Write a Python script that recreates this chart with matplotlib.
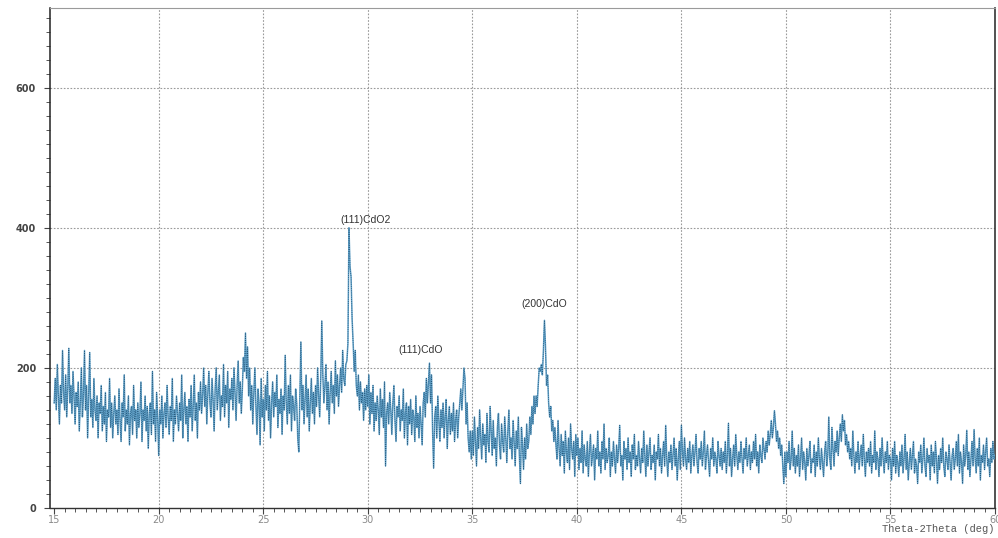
import numpy as np
import matplotlib
matplotlib.use("Agg")
import matplotlib.pyplot as plt
from matplotlib.ticker import MultipleLocator

# ---------------- data (intensity, 0.05 deg steps) ----------------
theta_start = 15.0
theta_step = 0.05

seg_15_20 = [150, 185, 140, 205, 160, 120, 175, 150, 225, 165,
             140, 190, 130, 170, 228, 150, 175, 135, 195, 160,
             120, 165, 145, 180, 110, 150, 200, 130, 160, 225,
             140, 175, 100, 160, 222, 130, 155, 115, 185, 140,
             125, 160, 100, 150, 135, 175, 110, 145, 120, 165,
             95, 140, 130, 185, 115, 150, 100, 135, 160, 120,
             140, 105, 170, 125, 95, 150, 130, 190, 110, 140,
             120, 160, 90, 135, 145, 105, 175, 125, 140, 100,
             150, 115, 135, 180, 95, 140, 125, 160, 110, 145,
             85, 135, 150, 105, 195, 120, 140, 95, 165, 130]

seg_20_25 = [75, 140, 120, 160, 100, 135, 150, 115, 175, 130,
             105, 145, 125, 185, 95, 140, 120, 160, 135, 110,
             150, 125, 190, 100, 140, 165, 120, 145, 95, 155,
             130, 175, 110, 145, 190, 125, 150, 100, 165, 140,
             180, 135, 160, 200, 145, 175, 120, 165, 195, 150,
             130, 185, 155, 110, 170, 200, 140, 165, 190, 125,
             160, 145, 205, 130, 175, 150, 195, 115, 170, 155,
             185, 140, 200, 165, 125, 175, 210, 150, 180, 135,
             170, 215, 195, 250, 185, 230, 160, 200, 140, 175,
             120, 165, 200, 145, 105, 170, 150, 90, 185, 130]

seg_25_30 = [155, 110, 175, 140, 195, 125, 160, 100, 150, 180,
             130, 165, 145, 190, 115, 155, 135, 170, 105, 160,
             140, 218, 150, 120, 175, 135, 190, 110, 160, 145,
             125, 170, 150, 100, 80, 160, 237, 140, 175, 120,
             155, 190, 130, 170, 110, 150, 185, 135, 165, 120,
             175, 145, 200, 160, 130, 185, 267, 190, 150, 175,
             205, 140, 180, 120, 165, 195, 150, 175, 135, 210,
             160, 190, 145, 175, 200, 165, 225, 185, 175, 205,
             210, 235, 400, 345, 330, 270, 235, 195, 225, 175,
             160, 190, 140, 180, 150, 165, 125, 170, 140, 175]

seg_30_35 = [145, 190, 120, 165, 135, 175, 110, 150, 125, 160,
             140, 105, 170, 130, 155, 115, 180, 60, 135, 150,
             120, 165, 140, 105, 150, 175, 125, 95, 145, 130,
             160, 110, 140, 125, 170, 100, 135, 150, 90, 145,
             120, 155, 105, 140, 130, 95, 160, 115, 135, 100,
             145, 120, 90, 150, 165, 130, 185, 150, 180, 207,
             150, 190, 110, 57, 130, 145, 100, 160, 125, 95,
             140, 115, 150, 100, 130, 155, 85, 125, 145, 105,
             135, 110, 150, 95, 125, 140, 100, 130, 150, 170,
             140, 170, 200, 185, 120, 150, 100, 80, 110, 70]

seg_35_40 = [110, 75, 130, 95, 60, 115, 85, 140, 100, 70,
             120, 90, 105, 65, 135, 95, 80, 145, 110, 75,
             125, 85, 100, 60, 115, 135, 90, 70, 120, 95,
             80, 130, 100, 65, 110, 140, 85, 100, 70, 125,
             95, 60, 110, 85, 130, 75, 35, 115, 90, 55,
             100, 70, 120, 85, 95, 130, 105, 145, 120, 160,
             135, 160, 145, 175, 200, 195, 205, 190, 225, 268,
             230, 175, 190, 150, 130, 145, 110, 125, 95, 115,
             90, 70, 125, 85, 60, 105, 75, 95, 50, 110,
             80, 65, 100, 55, 120, 85, 70, 95, 45, 105]

seg_40_45 = [75, 100, 55, 85, 65, 110, 50, 90, 70, 60,
             95, 45, 80, 105, 60, 75, 90, 40, 85, 70,
             110, 60, 80, 50, 95, 70, 120, 55, 85, 65,
             75, 100, 45, 80, 60, 95, 70, 50, 90, 65,
             85, 118, 60, 75, 40, 95, 70, 85, 55, 100,
             65, 80, 45, 90, 70, 105, 55, 75, 60, 95,
             70, 50, 85, 65, 110, 75, 45, 90, 60, 80,
             100, 55, 75, 65, 90, 40, 80, 70, 105, 60,
             85, 50, 75, 95, 60, 118, 70, 45, 80, 65,
             90, 55, 75, 100, 60, 85, 40, 70, 95, 55]

seg_45_50 = [118, 80, 60, 100, 70, 55, 85, 65, 95, 50,
             75, 90, 60, 80, 105, 65, 50, 85, 70, 95,
             60, 80, 110, 55, 75, 90, 65, 45, 85, 70,
             100, 60, 80, 70, 50, 95, 75, 60, 85, 55,
             80, 65, 95, 50, 75, 121, 60, 85, 45, 70,
             90, 60, 105, 75, 55, 80, 65, 95, 70, 50,
             85, 70, 100, 60, 75, 90, 55, 80, 65, 95,
             70, 105, 60, 80, 50, 90, 75, 65, 100, 85,
             70, 95, 80, 110, 90, 105, 125, 100, 115, 139,
             120, 95, 110, 85, 100, 75, 90, 60, 35, 80]

seg_50_55 = [45, 80, 65, 95, 55, 70, 110, 60, 85, 50,
             75, 60, 90, 45, 70, 100, 55, 80, 65, 40,
             85, 60, 75, 95, 50, 70, 65, 90, 45, 80,
             60, 100, 70, 55, 85, 65, 45, 80, 95, 60,
             75, 130, 70, 55, 115, 85, 60, 95, 80, 110,
             75, 100, 120, 95, 133, 110, 125, 90, 105, 80,
             95, 70, 85, 60, 110, 75, 50, 80, 65, 95,
             55, 75, 90, 60, 105, 70, 45, 80, 65, 85,
             60, 95, 50, 75, 65, 110, 55, 80, 70, 45,
             85, 60, 100, 70, 50, 80, 65, 95, 55, 75]

seg_55_60 = [70, 40, 85, 60, 95, 50, 75, 65, 45, 80,
             60, 90, 50, 70, 105, 55, 80, 40, 65, 85,
             55, 75, 95, 50, 70, 60, 35, 80, 65, 90,
             50, 70, 100, 60, 45, 85, 65, 75, 40, 90,
             60, 80, 50, 95, 70, 35, 75, 55, 85, 65,
             100, 60, 45, 80, 70, 55, 90, 65, 40, 75,
             85, 55, 70, 95, 60, 105, 50, 80, 65, 35,
             90, 60, 75, 111, 55, 80, 45, 70, 95, 60,
             112, 70, 50, 85, 60, 100, 40, 75, 65, 90,
             55, 80, 100, 60, 70, 45, 85, 65, 95, 70,
             75]

peak_labels = ["(111)CdO2", "(111)CdO", "(200)CdO"]
peak_label_x = [29.87, 32.53, 38.45]
peak_label_y = [411, 226, 291]

x_major_ticks = [15, 20, 25, 30, 35, 40, 45, 50, 55, 60]
y_major_ticks = [0, 200, 400, 600]
x_label = "Theta-2Theta (deg)"

# ---------------- build ----------------
intensity = np.array(seg_15_20 + seg_20_25 + seg_25_30 + seg_30_35 + seg_35_40 +
                     seg_40_45 + seg_45_50 + seg_50_55 + seg_55_60, dtype=float)
two_theta = theta_start + theta_step * np.arange(len(intensity))

W, H = 998, 538
fig = plt.figure(figsize=(W / 100, H / 100), dpi=100)
fig.patch.set_facecolor("white")
ax = fig.add_axes([50 / W, 1 - 508 / H, (995 - 50) / W, (508 - 8) / H])

ax.set_xlim(14.8, 60)
ax.set_ylim(0, 714)

# grid
grid_kw = dict(color="#9a9a9a", lw=0.8, linestyle=(0, (1.5, 1.5)), zorder=1)
for gx in x_major_ticks[1:-1]:
    ax.axvline(gx, **grid_kw)
for gy in y_major_ticks[1:]:
    ax.axhline(gy, **grid_kw)

# trace
ax.plot(two_theta, intensity, color="#62a2c9", lw=1.1, zorder=3)
ax.plot(two_theta, intensity, color="#25577a", lw=0.6, linestyle=(0, (1, 1.6)), zorder=4)

# annotations
for t, px, py in zip(peak_labels, peak_label_x, peak_label_y):
    ax.text(px, py, t, ha="center", va="center", fontsize=7.5,
            family="Liberation Sans", color="#333333", zorder=5)

# ticks
ax.set_xticks(x_major_ticks)
ax.set_yticks(y_major_ticks)
ax.xaxis.set_minor_locator(MultipleLocator(0.5))
ax.yaxis.set_minor_locator(MultipleLocator(20))
ax.tick_params(axis="both", which="major", direction="out", length=4, width=0.8,
               color="#444444", labelsize=7)
ax.tick_params(axis="both", which="minor", direction="out", length=3, width=0.7,
               color="#555555")
ax.tick_params(axis="x", which="major", pad=1, labelcolor="#8a8a8a")
ax.tick_params(axis="y", which="major", pad=6, labelcolor="#444444")
for lab in ax.get_yticklabels():
    lab.set_fontweight("bold")

fig.text(995 / W, 1 - 529.5 / H, x_label, ha="right", va="center",
         fontsize=7.5, family="Liberation Mono", color="#555555")

for side, c, w in [("left", "#222222", 1.1), ("bottom", "#333333", 1.0),
                   ("top", "#9a9a9a", 0.8), ("right", "#333333", 1.2)]:
    ax.spines[side].set_color(c)
    ax.spines[side].set_linewidth(w)

fig.savefig("out.png", dpi=100, facecolor="white")
